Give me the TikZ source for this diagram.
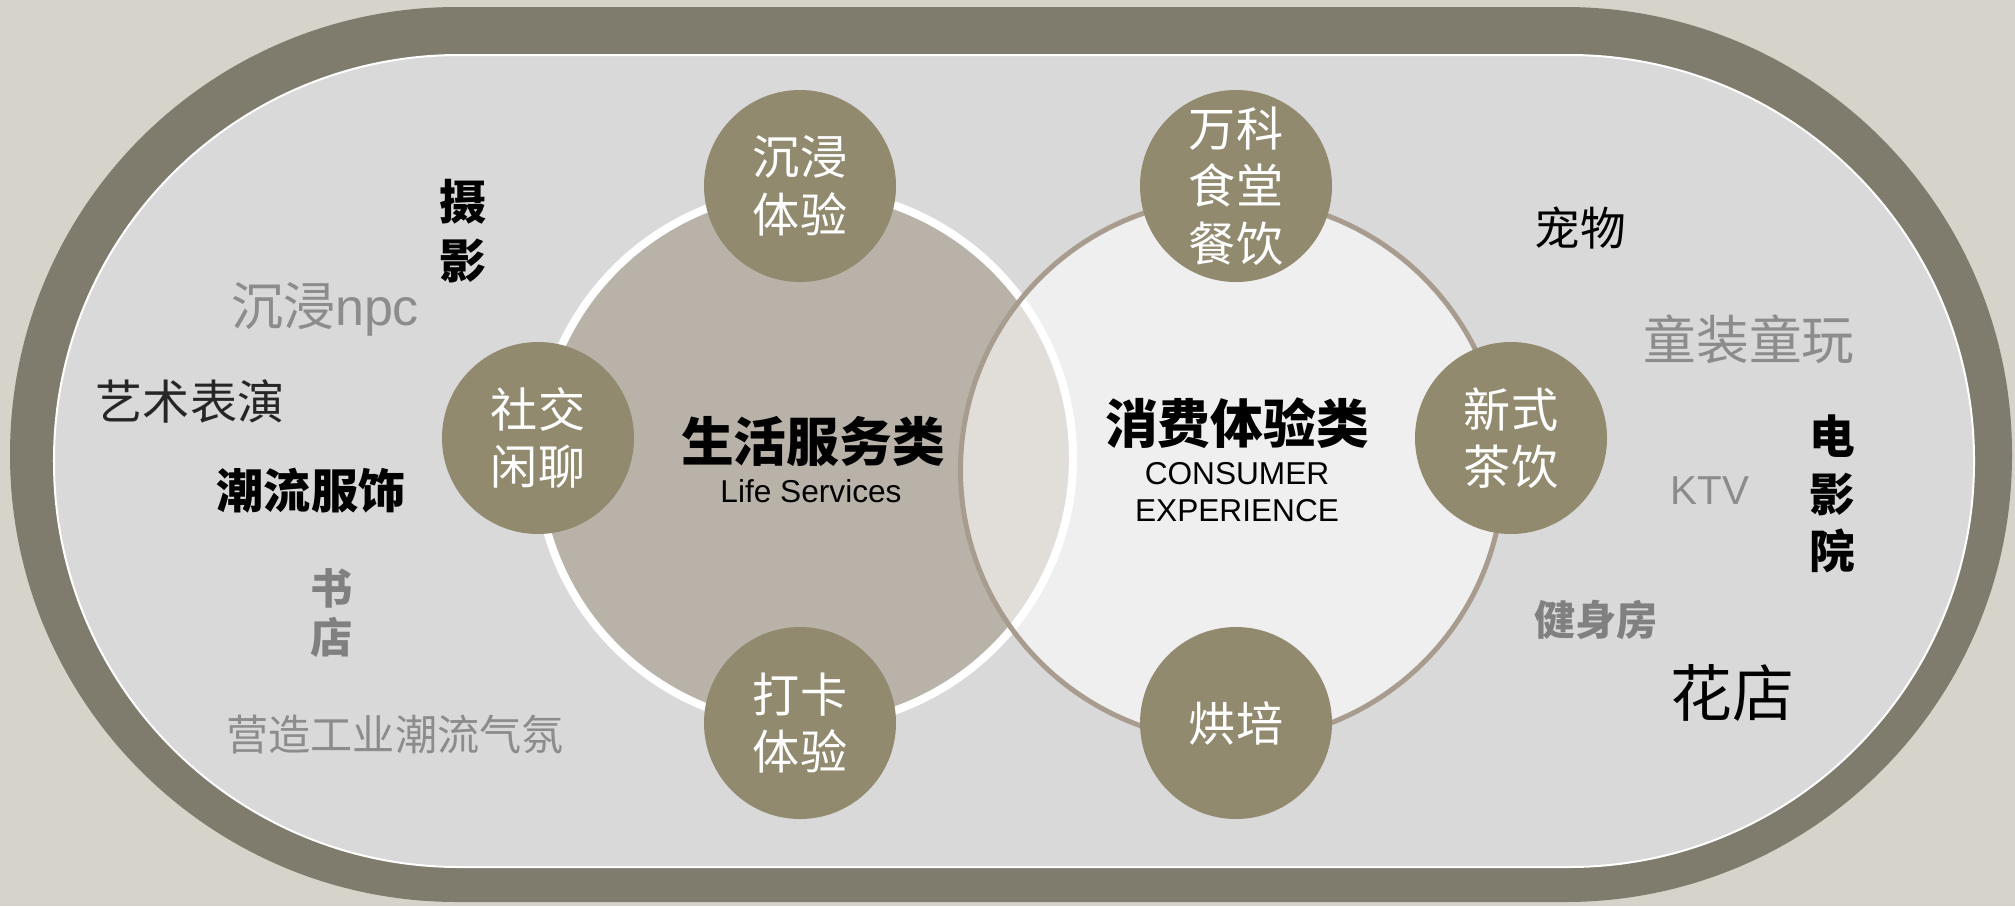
\documentclass[tikz,border=0pt]{standalone}
\usepackage{fontspec}
\setmainfont{Liberation Sans}
\newfontfamily\cjk{Noto Sans CJK SC}
\usetikzlibrary{backgrounds}
\definecolor{bgGray}{RGB}{214,211,203}
\definecolor{ringGray}{RGB}{127,123,109}
\definecolor{fieldGray}{RGB}{217,217,217}
\definecolor{lifeFill}{RGB}{185,178,169}
\definecolor{consumerLine}{RGB}{168,156,143}
\definecolor{hubFill}{RGB}{145,138,111}
\definecolor{tagGray}{RGB}{140,140,140}
\definecolor{tagMid}{RGB}{128,128,128}
\definecolor{tagDark}{RGB}{38,38,38}
\newcommand{\cjkat}[2]{\cjk\fontsize{#1}{#2}\selectfont}
\tikzstyle{ring}=[fill=ringGray, rounded corners=4.47cm]
\tikzstyle{field}=[fill=fieldGray, draw=white, line width=0.02cm, rounded corners=4.05cm]
\tikzstyle{life}=[fill=lifeFill, draw=white, line width=0.08cm]
\tikzstyle{consumer}=[fill=white, fill opacity=0.58, draw=consumerLine, line width=0.05cm]
\tikzstyle{hub}=[circle, inner sep=0pt, minimum size=1.92cm, fill=hubFill, text=white, align=center, font=\cjkat{13.4}{16.4}]
\tikzstyle{title}=[inner sep=0pt, font=\cjkat{15}{18}\bfseries]
\tikzstyle{sub}=[inner sep=0pt, align=center, font=\fontsize{9}{10.5}\selectfont]
\tikzstyle{tag}=[inner sep=0pt, align=center]

\begin{document}
\begin{tikzpicture}
	\useasboundingbox (0,0) rectangle (20.15,-9.06);
	\fill[bgGray] (0,0) rectangle (20.15,-9.06);
	%%
	\fill[ring] (0.10,-0.07) rectangle (20.12,-9.02);
	\draw[field] (0.54,-0.55) rectangle (19.74,-8.67);
	%%%%%%
	\draw[life] (8.05,-4.58) circle (2.68cm);
	\draw[consumer] (12.32,-4.70) circle (2.715cm);
	%%%%%%
	\draw (8.00,-1.86) node[hub] (immerse) {沉浸\\体验};
	\draw (5.38,-4.38) node[hub] (social) {社交\\闲聊};
	\draw (8.00,-7.23) node[hub] (checkin) {打卡\\体验};
	%%
	\draw (12.36,-1.86) node[hub] (canteen) {万科\\食堂\\餐饮};
	\draw (15.11,-4.38) node[hub] (tea) {新式\\茶饮};
	\draw (12.36,-7.23) node[hub] (bakery) {烘培};
	%%%%%%
	\draw (8.13,-4.41) node[title] (lifeT) {生活服务类};
	\draw (8.11,-4.91) node[sub] (lifeS) {Life Services};
	\draw (12.37,-4.23) node[title] (consT) {消费体验类};
	\draw (12.37,-4.92) node[sub] (consS) {CONSUMER\\EXPERIENCE};
	%%%%%%
	\draw (4.63,-2.31) node[tag, font=\cjkat{13.4}{16.8}\bfseries] (photo) {摄\\影};
	\draw (3.25,-3.09) node[tag, text=tagGray, font=\cjkat{14.8}{18}] (npc) {沉浸{\fontspec{Liberation Sans}npc}};
	\draw (1.90,-4.01) node[tag, text=tagDark, font=\cjkat{13.4}{16}] (art) {艺术表演};
	\draw (3.11,-4.91) node[tag, font=\cjkat{13.4}{16}\bfseries] (fashion) {潮流服饰};
	\draw (3.32,-6.13) node[tag, text=tagMid, font=\cjkat{12}{14}\bfseries] (books) {书\\店};
	\draw (3.95,-7.34) node[tag, text=tagGray, font=\cjkat{12}{14}] (mood) {营造工业潮流气氛};
	%%
	\draw (15.80,-2.28) node[tag, font=\cjkat{13}{16}] (pets) {宠物};
	\draw (17.49,-3.39) node[tag, text=tagGray, font=\cjkat{15}{18}] (kids) {童装童玩};
	\draw (18.32,-4.94) node[tag, font=\cjkat{13}{16.3}\bfseries] (cinema) {电\\影\\院};
	\draw (17.10,-4.91) node[tag, text=tagGray, font=\fontsize{11.5}{13}\selectfont] (ktv) {KTV};
	\draw (15.96,-6.20) node[tag, text=tagMid, font=\cjkat{11.7}{14}\bfseries] (gym) {健身房};
	\draw (17.32,-6.93) node[tag, font=\cjkat{17.6}{21}] (flowers) {花店};
\end{tikzpicture}
\end{document}
